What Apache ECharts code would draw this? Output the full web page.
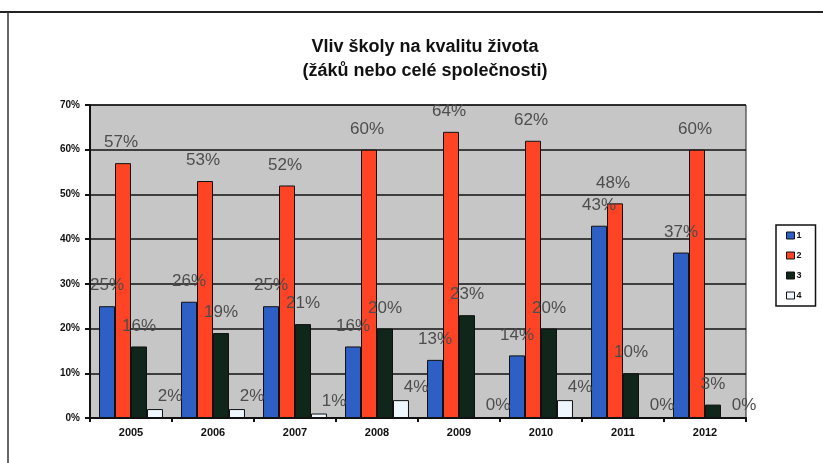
<!DOCTYPE html>
<html>
<head>
<meta charset="utf-8">
<script src="https://cdn.jsdelivr.net/npm/echarts@6/dist/echarts.min.js"></script>
<style>
    html, body { margin: 0; padding: 0; background: #fff; }
    #chart { width: 823px; height: 463px; }
</style>
</head>
<body>
<div id="chart"></div>
<script>
    // roky
    var years = ['2005', '2006', '2007', '2008', '2009', '2010', '2011', '2012'];
    // hodnoty v procentech
    var s1 = [25, 26, 25, 16, 13, 14, 43, 37];
    var s2 = [57, 53, 52, 60, 64, 62, 48, 60];
    var s3 = [16, 19, 21, 20, 23, 20, 10, 3];
    var s4 = [2, 2, 1, 4, 0, 4, 0, 0];
    var seriesNames = ['1', '2', '3', '4'];
    var yTicks = [0, 10, 20, 30, 40, 50, 60, 70];

    var colors = ['#2d5fc4', '#ff4425', '#10261a', '#eef7fd'];
    var myChart = echarts.init(document.getElementById('chart'));

    function makeSeries(name, data, color, dist, offset) {
        return {
            name: name,
            type: 'bar',
            data: data,
            barGap: '0%',
            barCategoryGap: '22%',
            itemStyle: { color: color, borderColor: '#111', borderWidth: 1 },
            label: {
                show: true,
                position: 'top',
                distance: dist,
                offset: offset,
                formatter: '{c}%',
                color: '#4d4d4d',
                fontFamily: 'Liberation Sans, Arial',
                fontSize: 17
            }
        };
    }

    myChart.setOption({
        animation: false,
        title: {
            text: 'Vliv školy na kvalitu života\n(žáků nebo celé společnosti)',
            left: 420,
            textAlign: 'center',
            top: 30,
            textStyle: {
                fontFamily: 'Liberation Sans, Arial',
                fontWeight: 'bold',
                fontSize: 18,
                lineHeight: 24,
                color: '#111'
            }
        },
        graphic: [
            { type: 'line', shape: { x1: 0, y1: 12, x2: 823, y2: 12 }, style: { stroke: '#222', lineWidth: 2 } },
            { type: 'line', shape: { x1: 8, y1: 12, x2: 8, y2: 463 }, style: { stroke: '#333', lineWidth: 1.5 } }
        ],
        legend: {
            data: seriesNames,
            orient: 'vertical',
            left: 776,
            top: 225,
            itemWidth: 8,
            itemHeight: 7,
            itemGap: 11,
            icon: 'rect',
            padding: [6, 14, 6, 10],
            borderColor: '#111',
            borderWidth: 1.5,
            textStyle: { fontSize: 9, fontWeight: 'bold', color: '#111', padding: [0, 0, 0, -3] },
            itemStyle: { borderColor: '#111', borderWidth: 1 }
        },
        grid: {
            left: 90,
            right: 77,
            top: 105,
            bottom: 45,
            show: true,
            backgroundColor: '#c6c6c6',
            borderColor: '#222',
            borderWidth: 1
        },
        xAxis: {
            type: 'category',
            data: years,
            axisLine: { lineStyle: { color: '#111', width: 2 } },
            axisTick: { show: true, alignWithLabel: false, length: 4, lineStyle: { color: '#111', width: 2 } },
            axisLabel: {
                color: '#111',
                fontWeight: 'bold',
                fontSize: 11,
                fontFamily: 'Liberation Sans, Arial',
                margin: 9
            }
        },
        yAxis: {
            type: 'value',
            min: 0,
            max: 70,
            interval: 10,
            axisLine: { show: true, lineStyle: { color: '#111', width: 2 } },
            axisTick: { show: true, inside: false, length: 5, lineStyle: { color: '#111', width: 2 } },
            splitLine: { lineStyle: { color: '#111', width: 1.5 } },
            axisLabel: {
                color: '#111',
                fontWeight: 'bold',
                fontSize: 10,
                fontFamily: 'Liberation Sans, Arial',
                margin: 10,
                formatter: function (v) {
                    return yTicks.indexOf(v) >= 0 ? v + '%' : '';
                }
            }
        },
        series: [
            makeSeries(seriesNames[0], s1, colors[0], 12, [0, 0]),
            makeSeries(seriesNames[1], s2, colors[1], 12, [-2, 0]),
            makeSeries(seriesNames[2], s3, colors[2], 12, [0, 0]),
            makeSeries(seriesNames[3], s4, colors[3], 4, [15, 0])
        ]
    });
</script>
</body>
</html>
